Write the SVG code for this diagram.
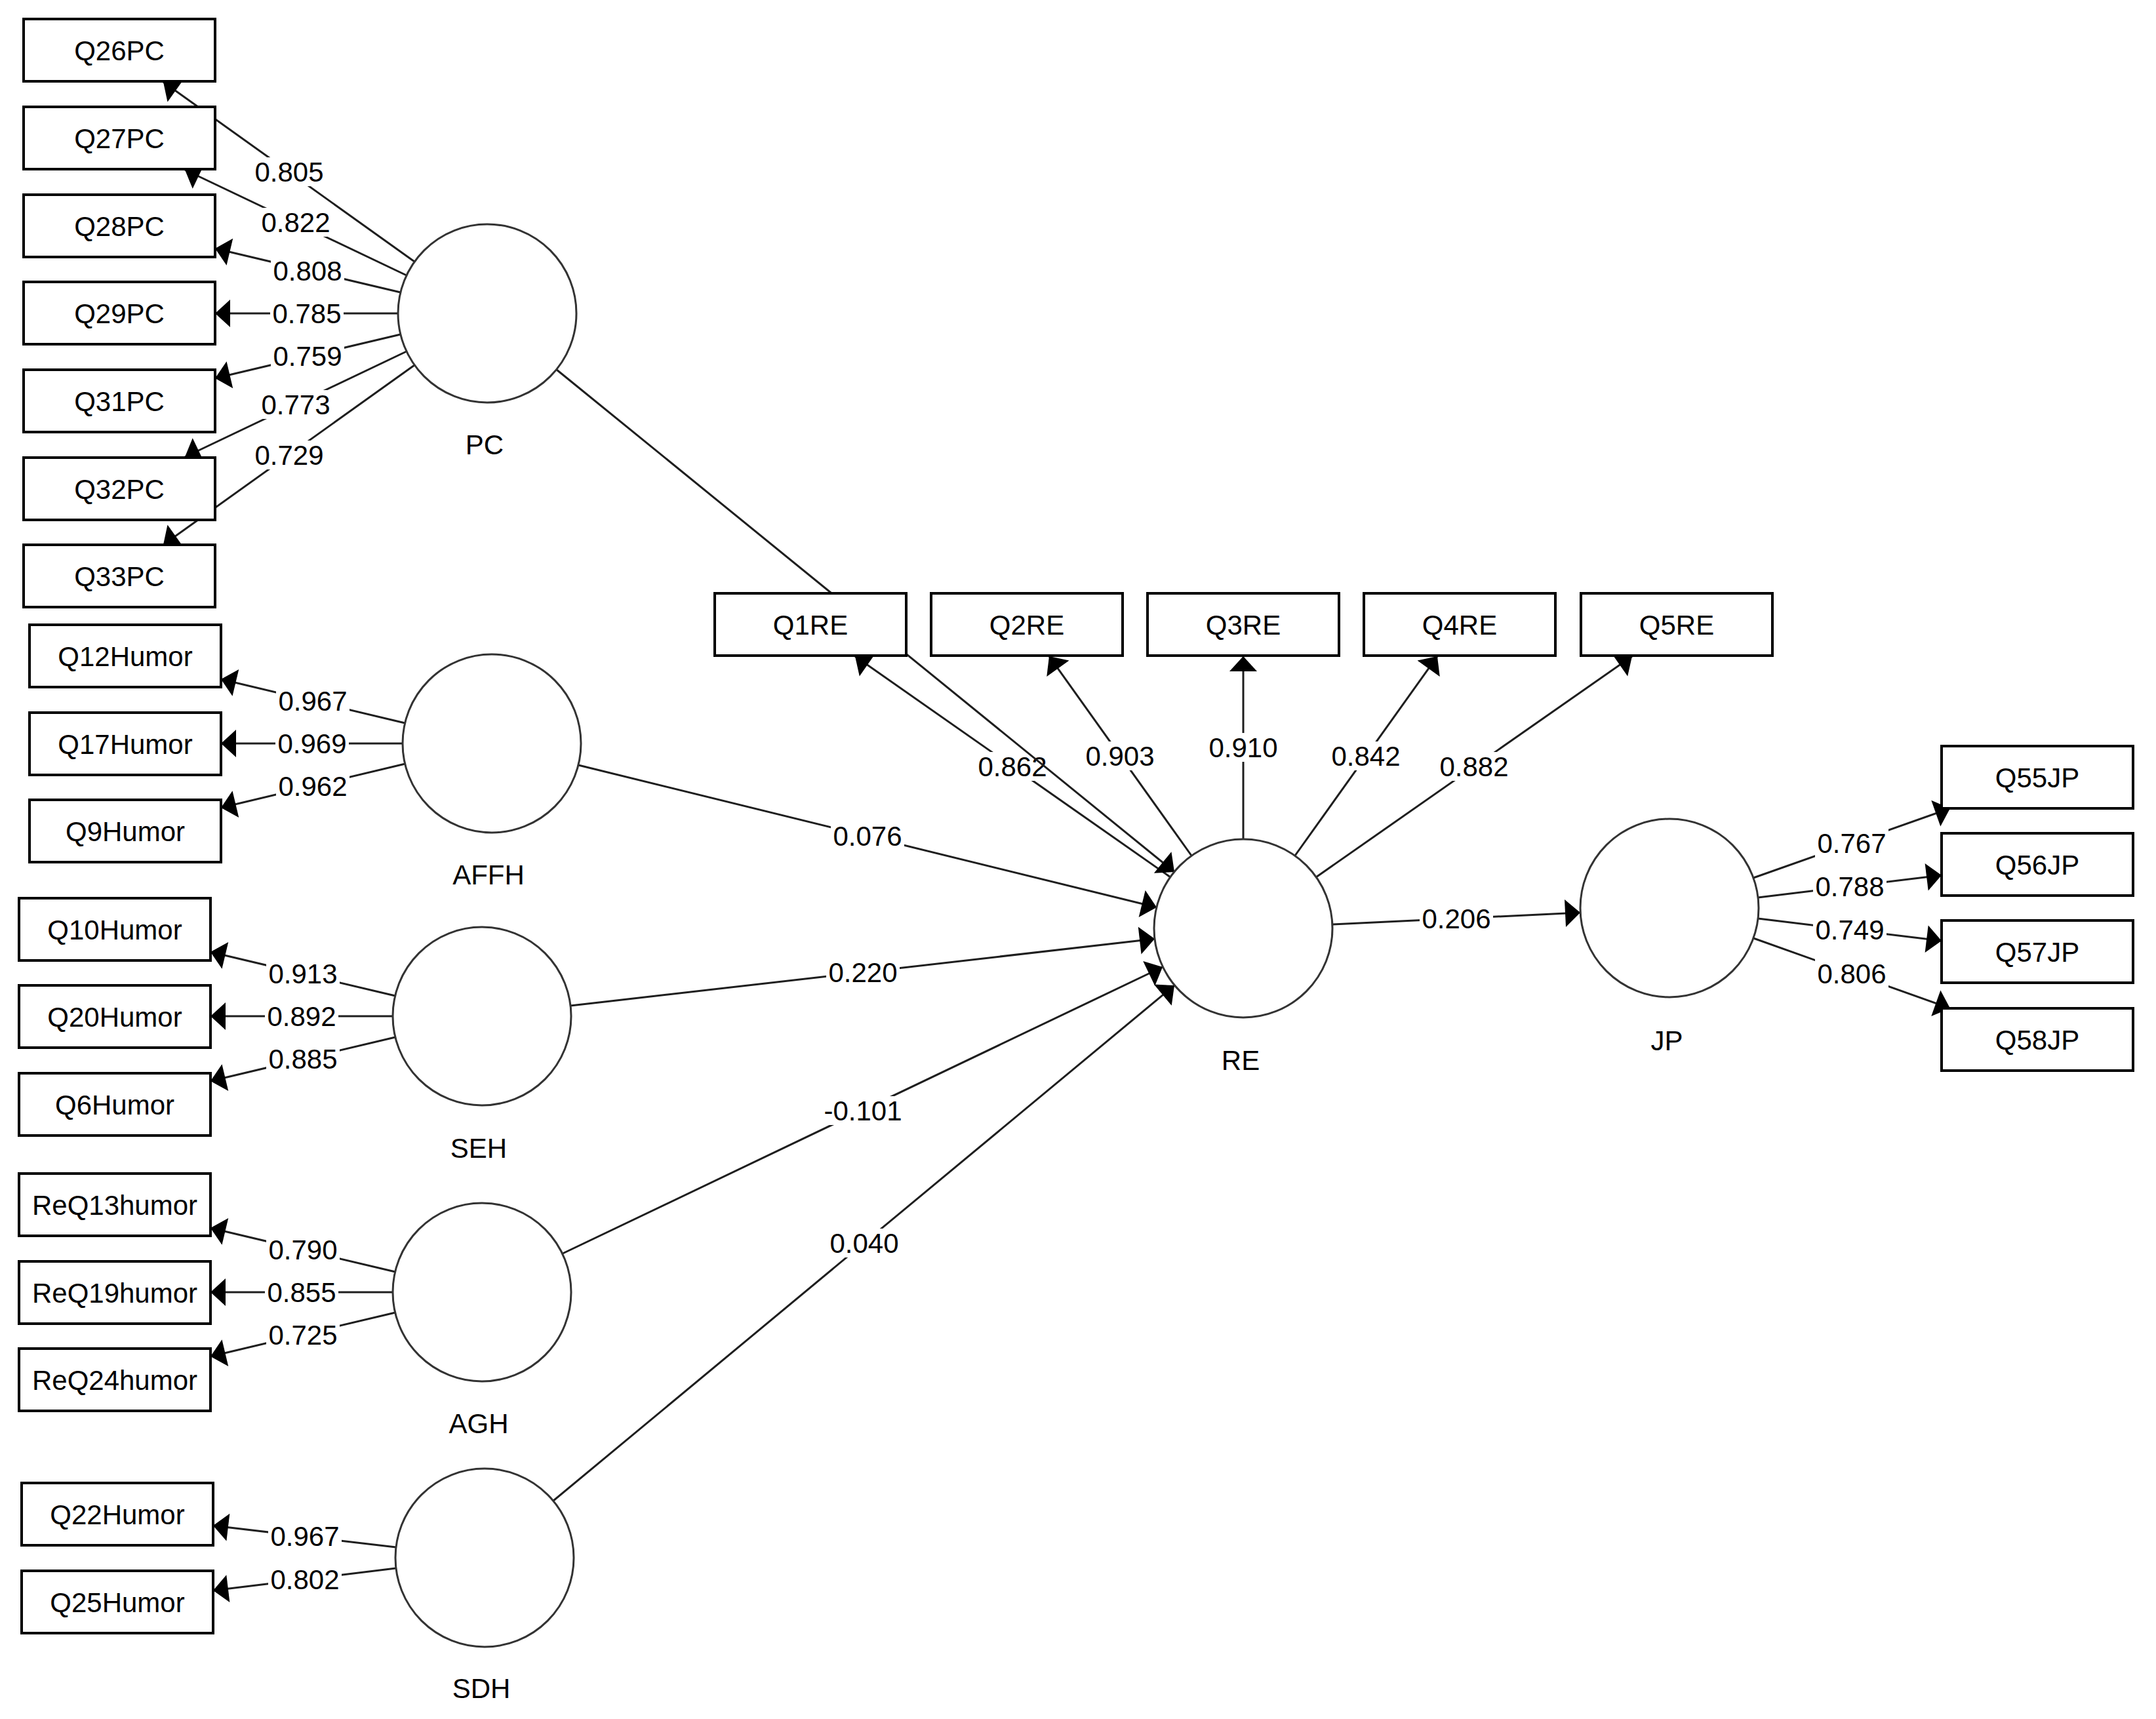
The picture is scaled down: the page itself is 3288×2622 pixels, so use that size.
<svg xmlns="http://www.w3.org/2000/svg" width="3288" height="2622" viewBox="0 0 3288 2622">
<style>
.ln{stroke:#1e1e1e;stroke-width:3;fill:none;marker-end:url(#ah)}
.box{fill:#fff;stroke:#000;stroke-width:4}
.lv{fill:#fff;stroke:#333;stroke-width:3}
.t{font-family:"Liberation Sans",Arial,sans-serif;font-size:42px;fill:#000;text-anchor:middle}
.bg{fill:#fff}
</style>
<defs>
<marker id="ah" markerUnits="userSpaceOnUse" viewBox="-24 -22 25 44" refX="0" refY="0" markerWidth="25" markerHeight="44" orient="auto">
<path d="M0,0 L-23,-21 L-23,21 Z" fill="#000"/>
</marker>
</defs>
<rect width="3288" height="2622" fill="#fff"/>
<g id="connectors">
<!-- PC loadings -->
<line class="ln" x1="632" y1="399" x2="249" y2="125"/>
<line class="ln" x1="620" y1="420" x2="282" y2="259"/>
<line class="ln" x1="611" y1="446" x2="328" y2="379"/>
<line class="ln" x1="607" y1="478" x2="328" y2="478"/>
<line class="ln" x1="611" y1="510" x2="328" y2="577"/>
<line class="ln" x1="620" y1="536" x2="282" y2="697"/>
<line class="ln" x1="632" y1="557" x2="249" y2="831"/>
<!-- AFFH -->
<line class="ln" x1="618" y1="1103" x2="337" y2="1036"/>
<line class="ln" x1="614" y1="1134" x2="337" y2="1134"/>
<line class="ln" x1="618" y1="1165" x2="337" y2="1232"/>
<!-- SEH -->
<line class="ln" x1="603" y1="1519" x2="321" y2="1452"/>
<line class="ln" x1="599" y1="1550" x2="321" y2="1550"/>
<line class="ln" x1="603" y1="1582" x2="321" y2="1649"/>
<!-- AGH -->
<line class="ln" x1="603" y1="1940" x2="321" y2="1873"/>
<line class="ln" x1="599" y1="1971" x2="321" y2="1971"/>
<line class="ln" x1="603" y1="2002" x2="321" y2="2069"/>
<!-- SDH -->
<line class="ln" x1="604" y1="2360" x2="325" y2="2327"/>
<line class="ln" x1="604" y1="2392" x2="325" y2="2426"/>
<!-- RE -->
<line class="ln" x1="1785" y1="1338" x2="1304" y2="1001"/>
<line class="ln" x1="1817" y1="1305" x2="1600" y2="1001"/>
<line class="ln" x1="1896" y1="1280" x2="1896" y2="1001"/>
<line class="ln" x1="1975" y1="1305" x2="2192" y2="1001"/>
<line class="ln" x1="2007" y1="1338" x2="2489" y2="1001"/>
<!-- JP -->
<line class="ln" x1="2674" y1="1339" x2="2974" y2="1233"/>
<line class="ln" x1="2681" y1="1369" x2="2961" y2="1335"/>
<line class="ln" x1="2681" y1="1401" x2="2961" y2="1435"/>
<line class="ln" x1="2674" y1="1431" x2="2974" y2="1538"/>
<!-- structural -->
<line class="ln" x1="882" y1="1167" x2="1764" y2="1384"/>
<line class="ln" x1="870" y1="1534" x2="1761" y2="1432"/>
<line class="ln" x1="858" y1="1912" x2="1773" y2="1475"/>
<line class="ln" x1="844" y1="2289" x2="1791" y2="1503"/>
<line class="ln" x1="2032" y1="1410" x2="2410" y2="1392"/>
<!-- labels -->
<g id="labels">
<rect class="bg" x="385" y="240" width="112" height="44"/><text class="t" x="441" y="277">0.805</text>
<rect class="bg" x="395" y="317" width="112" height="44"/><text class="t" x="451" y="354">0.822</text>
<rect class="bg" x="413" y="391" width="112" height="44"/><text class="t" x="469" y="428">0.808</text>
<rect class="bg" x="412" y="456" width="112" height="44"/><text class="t" x="468" y="493">0.785</text>
<rect class="bg" x="413" y="521" width="112" height="44"/><text class="t" x="469" y="558">0.759</text>
<rect class="bg" x="395" y="595" width="112" height="44"/><text class="t" x="451" y="632">0.773</text>
<rect class="bg" x="385" y="672" width="112" height="44"/><text class="t" x="441" y="709">0.729</text>
<rect class="bg" x="421" y="1047" width="112" height="44"/><text class="t" x="477" y="1084">0.967</text>
<rect class="bg" x="420" y="1112" width="112" height="44"/><text class="t" x="476" y="1149">0.969</text>
<rect class="bg" x="421" y="1177" width="112" height="44"/><text class="t" x="477" y="1214">0.962</text>
<rect class="bg" x="406" y="1463" width="112" height="44"/><text class="t" x="462" y="1500">0.913</text>
<rect class="bg" x="404" y="1528" width="112" height="44"/><text class="t" x="460" y="1565">0.892</text>
<rect class="bg" x="406" y="1593" width="112" height="44"/><text class="t" x="462" y="1630">0.885</text>
<rect class="bg" x="406" y="1884" width="112" height="44"/><text class="t" x="462" y="1921">0.790</text>
<rect class="bg" x="404" y="1949" width="112" height="44"/><text class="t" x="460" y="1986">0.855</text>
<rect class="bg" x="406" y="2014" width="112" height="44"/><text class="t" x="462" y="2051">0.725</text>
<rect class="bg" x="409" y="2321" width="112" height="44"/><text class="t" x="465" y="2358">0.967</text>
<rect class="bg" x="409" y="2387" width="112" height="44"/><text class="t" x="465" y="2424">0.802</text>
<rect class="bg" x="1488" y="1147" width="112" height="44"/><text class="t" x="1544" y="1184">0.862</text>
<rect class="bg" x="1652" y="1131" width="112" height="44"/><text class="t" x="1708" y="1168">0.903</text>
<rect class="bg" x="1840" y="1118" width="112" height="44"/><text class="t" x="1896" y="1155">0.910</text>
<rect class="bg" x="2027" y="1131" width="112" height="44"/><text class="t" x="2083" y="1168">0.842</text>
<rect class="bg" x="2192" y="1147" width="112" height="44"/><text class="t" x="2248" y="1184">0.882</text>
<rect class="bg" x="2768" y="1264" width="112" height="44"/><text class="t" x="2824" y="1301">0.767</text>
<rect class="bg" x="2765" y="1330" width="112" height="44"/><text class="t" x="2821" y="1367">0.788</text>
<rect class="bg" x="2765" y="1396" width="112" height="44"/><text class="t" x="2821" y="1433">0.749</text>
<rect class="bg" x="2768" y="1463" width="112" height="44"/><text class="t" x="2824" y="1500">0.806</text>
<rect class="bg" x="1267" y="1253" width="112" height="44"/><text class="t" x="1323" y="1290">0.076</text>
<rect class="bg" x="1260" y="1461" width="112" height="44"/><text class="t" x="1316" y="1498">0.220</text>
<rect class="bg" x="1253" y="1672" width="126" height="44"/><text class="t" x="1316" y="1709">-0.101</text>
<rect class="bg" x="1262" y="1874" width="112" height="44"/><text class="t" x="1318" y="1911">0.040</text>
<rect class="bg" x="2165" y="1379" width="112" height="44"/><text class="t" x="2221" y="1416">0.206</text>
</g>
<line class="ln" x1="849" y1="564" x2="1791" y2="1330"/>
</g>
<g id="PC"><circle class="lv" cx="743" cy="478" r="136"/><text class="t" x="739" y="693">PC</text></g>
<g id="AFFH"><circle class="lv" cx="750" cy="1134" r="136"/><text class="t" x="745" y="1349">AFFH</text></g>
<g id="SEH"><circle class="lv" cx="735" cy="1550" r="136"/><text class="t" x="730" y="1766">SEH</text></g>
<g id="AGH"><circle class="lv" cx="735" cy="1971" r="136"/><text class="t" x="730" y="2186">AGH</text></g>
<g id="SDH"><circle class="lv" cx="739" cy="2376" r="136"/><text class="t" x="734" y="2590">SDH</text></g>
<g id="RE"><circle class="lv" cx="1896" cy="1416" r="136"/><text class="t" x="1892" y="1632">RE</text></g>
<g id="JP"><circle class="lv" cx="2546" cy="1385" r="136"/><text class="t" x="2542" y="1602">JP</text></g>
<g id="Q26PC"><rect class="box" x="36" y="29" width="292" height="95"/><text class="t" x="182" y="92">Q26PC</text></g>
<g id="Q27PC"><rect class="box" x="36" y="163" width="292" height="95"/><text class="t" x="182" y="226">Q27PC</text></g>
<g id="Q28PC"><rect class="box" x="36" y="297" width="292" height="95"/><text class="t" x="182" y="360">Q28PC</text></g>
<g id="Q29PC"><rect class="box" x="36" y="430" width="292" height="95"/><text class="t" x="182" y="493">Q29PC</text></g>
<g id="Q31PC"><rect class="box" x="36" y="564" width="292" height="95"/><text class="t" x="182" y="627">Q31PC</text></g>
<g id="Q32PC"><rect class="box" x="36" y="698" width="292" height="95"/><text class="t" x="182" y="761">Q32PC</text></g>
<g id="Q33PC"><rect class="box" x="36" y="831" width="292" height="95"/><text class="t" x="182" y="894">Q33PC</text></g>
<g id="Q12Humor"><rect class="box" x="45" y="953" width="292" height="95"/><text class="t" x="191" y="1016">Q12Humor</text></g>
<g id="Q17Humor"><rect class="box" x="45" y="1087" width="292" height="95"/><text class="t" x="191" y="1150">Q17Humor</text></g>
<g id="Q9Humor"><rect class="box" x="45" y="1220" width="292" height="95"/><text class="t" x="191" y="1283">Q9Humor</text></g>
<g id="Q10Humor"><rect class="box" x="29" y="1370" width="292" height="95"/><text class="t" x="175" y="1433">Q10Humor</text></g>
<g id="Q20Humor"><rect class="box" x="29" y="1503" width="292" height="95"/><text class="t" x="175" y="1566">Q20Humor</text></g>
<g id="Q6Humor"><rect class="box" x="29" y="1637" width="292" height="95"/><text class="t" x="175" y="1700">Q6Humor</text></g>
<g id="ReQ13humor"><rect class="box" x="29" y="1790" width="292" height="95"/><text class="t" x="175" y="1853">ReQ13humor</text></g>
<g id="ReQ19humor"><rect class="box" x="29" y="1924" width="292" height="95"/><text class="t" x="175" y="1987">ReQ19humor</text></g>
<g id="ReQ24humor"><rect class="box" x="29" y="2057" width="292" height="95"/><text class="t" x="175" y="2120">ReQ24humor</text></g>
<g id="Q22Humor"><rect class="box" x="33" y="2262" width="292" height="95"/><text class="t" x="179" y="2325">Q22Humor</text></g>
<g id="Q25Humor"><rect class="box" x="33" y="2396" width="292" height="95"/><text class="t" x="179" y="2459">Q25Humor</text></g>
<g id="Q1RE"><rect class="box" x="1090" y="905" width="292" height="95"/><text class="t" x="1236" y="968">Q1RE</text></g>
<g id="Q2RE"><rect class="box" x="1420" y="905" width="292" height="95"/><text class="t" x="1566" y="968">Q2RE</text></g>
<g id="Q3RE"><rect class="box" x="1750" y="905" width="292" height="95"/><text class="t" x="1896" y="968">Q3RE</text></g>
<g id="Q4RE"><rect class="box" x="2080" y="905" width="292" height="95"/><text class="t" x="2226" y="968">Q4RE</text></g>
<g id="Q5RE"><rect class="box" x="2411" y="905" width="292" height="95"/><text class="t" x="2557" y="968">Q5RE</text></g>
<g id="Q55JP"><rect class="box" x="2961" y="1138" width="292" height="95"/><text class="t" x="3107" y="1201">Q55JP</text></g>
<g id="Q56JP"><rect class="box" x="2961" y="1271" width="292" height="95"/><text class="t" x="3107" y="1334">Q56JP</text></g>
<g id="Q57JP"><rect class="box" x="2961" y="1404" width="292" height="95"/><text class="t" x="3107" y="1467">Q57JP</text></g>
<g id="Q58JP"><rect class="box" x="2961" y="1538" width="292" height="95"/><text class="t" x="3107" y="1601">Q58JP</text></g>
</svg>
